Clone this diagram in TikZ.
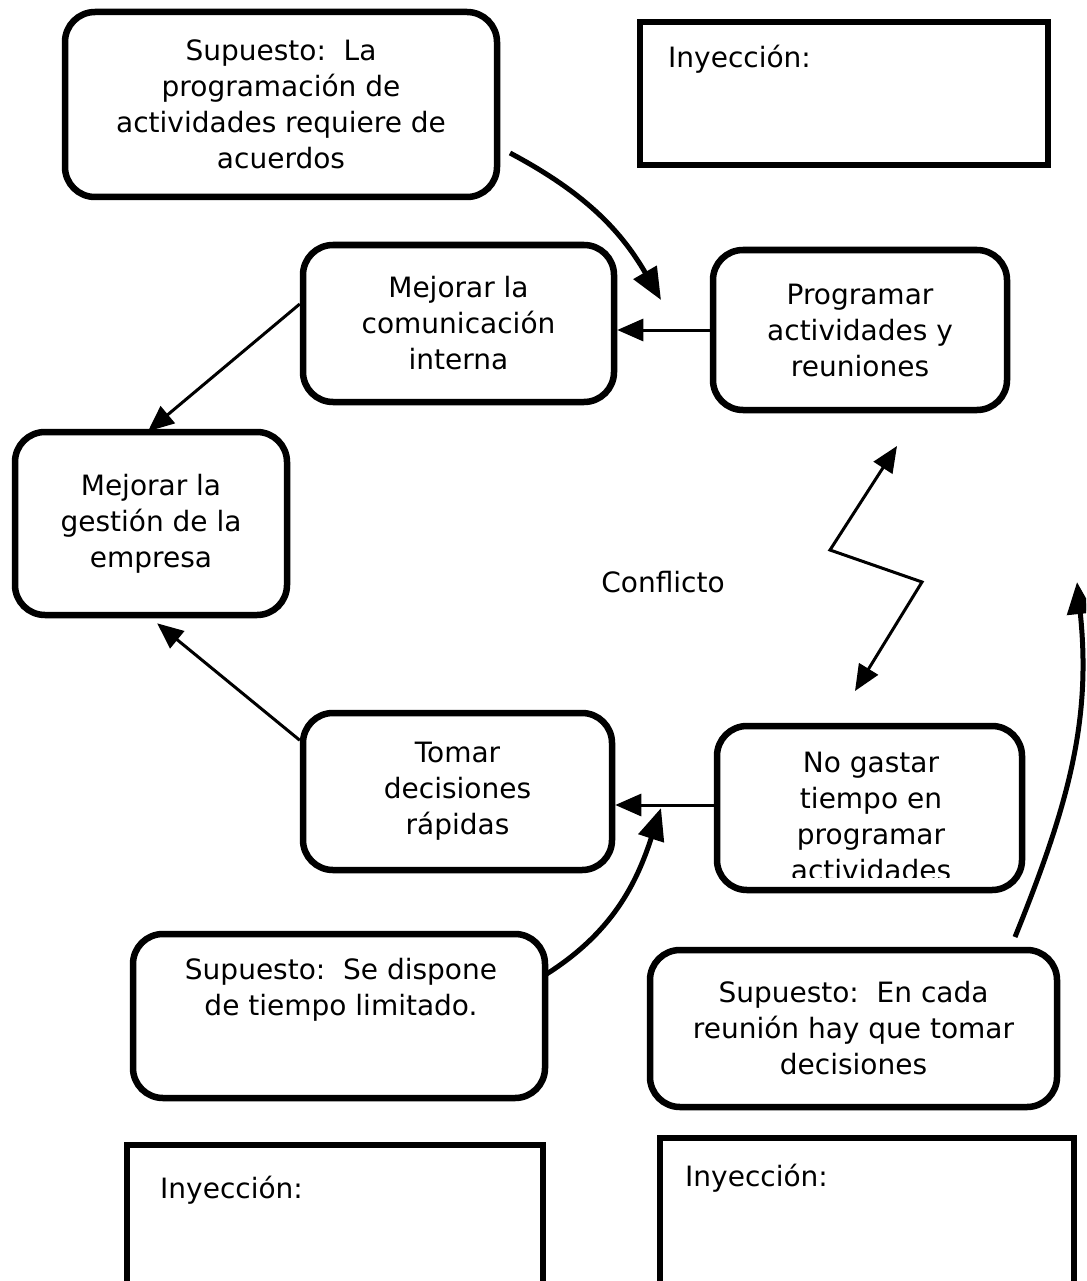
\documentclass[tikz,border=0pt]{standalone}
\usepackage{fontspec}
\setmainfont{DejaVu Sans}
\usetikzlibrary{arrows.meta}
\tikzset{
  supbox/.style={draw, line width=6.5pt, rounded corners=30pt, align=center, inner sep=0pt},
  inybox/.style={draw, line width=6pt},
  arr/.style={line width=3pt, -{Triangle[length=26pt, width=22pt]}},
  curvarr/.style={line width=5pt, -{Triangle[length=32pt, width=26pt]}}
}
\begin{document}
\begin{tikzpicture}[x=1pt, y=-1pt, font=\fontsize{28}{36}\selectfont]
  \useasboundingbox (0,0) rectangle (1086,1281);
  \clip (0,0) rectangle (1086,1281);
  % assumption boxes and goals
  \node[supbox, minimum width=432pt, minimum height=185pt] (abox) at (281,104.5) {Supuesto:\ \ La\\programación de\\actividades requiere de\\acuerdos};
  \node[supbox, minimum width=311pt, minimum height=157pt] (bbox) at (458.5,323.5) {Mejorar la\\comunicación\\interna};
  \node[supbox, minimum width=294pt, minimum height=160pt] (cbox) at (860,330) {Programar\\actividades y\\reuniones};
  \node[supbox, minimum width=272pt, minimum height=183pt] (dbox) at (151,523.5) {Mejorar la\\gestión de la\\empresa};
  \node[supbox, minimum width=309pt, minimum height=157pt] (ebox) at (457.5,791.5) {Tomar\\decisiones\\rápidas};
  \node[supbox, minimum width=305pt, minimum height=164pt] (fbox) at (869.5,808) {};
  \begin{scope}
    \clip (fbox.north west) rectangle (1022,877);
    \node[align=center] (ftxt) at (871,816) {No gastar\\tiempo en\\programar\\actividades};
  \end{scope}
  \node[supbox, minimum width=412pt, minimum height=164pt] (gbox) at (339,1016) {};
  \node[align=center, anchor=north] (gtxt) at (341,955) {Supuesto:\ \ Se dispone\\de tiempo limitado.};
  \node[supbox, minimum width=407pt, minimum height=157pt] (hbox) at (853.5,1028.5) {Supuesto:\ \ En cada\\reunión hay que tomar\\decisiones};
  % injection boxes
  \draw[inybox] (640,22) rectangle (1048,165);
  \node[anchor=base west, inner sep=0pt] (inytop) at (668,68) {Inyección:};
  \draw[inybox] (127,1145) rectangle (543,1300);
  \node[anchor=base west, inner sep=0pt] (inyleft) at (160,1198) {Inyección:};
  \draw[inybox] (660,1138) rectangle (1074,1300);
  \node[anchor=base west, inner sep=0pt] (inyright) at (685,1186) {Inyección:};
  \node (conf) at (663,582) {Conflicto};
  % free ends
  \coordinate (aend) at (661,300);
  \coordinate (gend) at (661,808);
  \coordinate (hend) at (1077,582);
  \coordinate (ztop) at (897,446);
  \coordinate (zbot) at (855,691);
  % connectors
  \draw[arr] (cbox.west) -- (cbox.west -| bbox.east);
  \draw[arr] ([yshift=3pt]fbox.west) -- ([yshift=3pt]fbox.west -| ebox.east);
  \draw[arr, shorten >=-4pt] (bbox.173) -- (dbox.north);
  \draw[arr, shorten >=8pt] (ebox.162) -- (dbox.south);
  \draw[curvarr] (510,153) to[out=-28, in=120] (aend);
  \draw[curvarr] (545,975) to[out=32, in=-108] (gend);
  \draw[curvarr] (1015,937) to[out=68, in=-84] (hend);
  \draw[line width=3pt, {Triangle[length=26pt, width=22pt]}-{Triangle[length=26pt, width=22pt]}] (ztop) -- (830,550) -- (922,582) -- (zbot);
\end{tikzpicture}
\end{document}
